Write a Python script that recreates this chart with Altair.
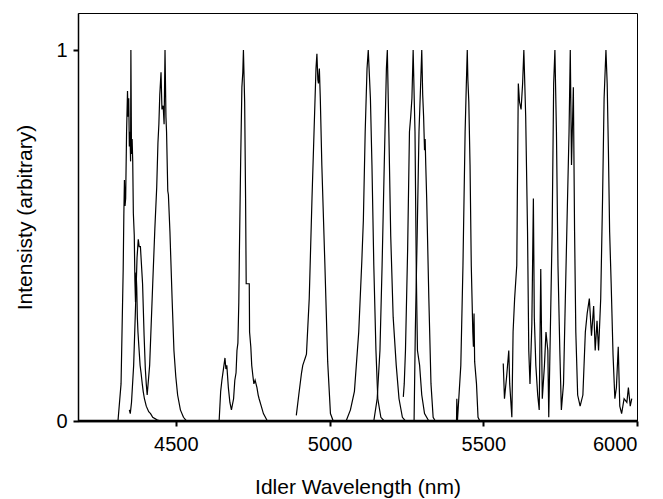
import altair as alt
import pandas as pd

# Idler wavelength (nm) and normalized intensity for each recorded peak
p1_nm = [4312, 4322, 4329, 4331, 4333, 4335, 4337, 4340, 4343, 4345, 4347, 4349, 4351, 4353, 4354, 4356, 4358, 4360, 4362, 4365, 4367, 4369, 4371, 4373, 4375, 4377, 4380, 4384, 4387, 4391, 4394, 4398, 4404, 4412, 4418, 4425, 4439, 4450]
p1_i = [0.0, 0.10, 0.41, 0.55, 0.65, 0.58, 0.60, 0.78, 0.89, 0.82, 0.87, 0.74, 0.78, 0.70, 1.0, 0.72, 0.76, 0.70, 0.56, 0.50, 0.38, 0.32, 0.40, 0.36, 0.28, 0.24, 0.20, 0.15, 0.13, 0.10, 0.08, 0.06, 0.04, 0.025, 0.02, 0.01, 0.003, 0.0]

p2_nm = [4349, 4352, 4356, 4363, 4370, 4374, 4378, 4381, 4385, 4392, 4397, 4401, 4404, 4407, 4415, 4425, 4432, 4438, 4442, 4445, 4448, 4452, 4455, 4459, 4462, 4465, 4468, 4470, 4474, 4476, 4481, 4488, 4494, 4500, 4506, 4515, 4525, 4535]
p2_i = [0.03, 0.02, 0.05, 0.15, 0.33, 0.44, 0.49, 0.47, 0.47, 0.37, 0.23, 0.14, 0.10, 0.07, 0.15, 0.37, 0.52, 0.63, 0.75, 0.80, 0.88, 0.94, 0.84, 0.85, 0.80, 1.0, 0.82, 0.78, 0.62, 0.61, 0.51, 0.33, 0.19, 0.12, 0.07, 0.03, 0.01, 0.0]

p3_nm = [4641, 4646, 4650, 4655, 4660, 4663, 4666, 4671, 4676, 4681, 4688, 4692, 4696, 4699, 4702, 4705, 4707, 4711, 4715, 4718, 4720, 4724, 4727, 4729, 4739, 4740, 4744, 4747, 4751, 4754, 4758, 4764, 4768, 4771, 4778, 4785, 4798]
p3_i = [0.0, 0.08, 0.11, 0.14, 0.17, 0.14, 0.15, 0.09, 0.05, 0.03, 0.06, 0.11, 0.13, 0.19, 0.21, 0.32, 0.46, 0.70, 0.90, 0.94, 1.0, 0.86, 0.60, 0.37, 0.37, 0.24, 0.20, 0.15, 0.12, 0.10, 0.11, 0.09, 0.07, 0.06, 0.04, 0.02, 0.0]

p4_nm = [4892, 4900, 4909, 4913, 4917, 4921, 4925, 4934, 4943, 4953, 4956, 4959, 4962, 4964, 4967, 4970, 4975, 4985, 4994, 5003, 5012]
p4_i = [0.015, 0.07, 0.13, 0.15, 0.16, 0.17, 0.18, 0.33, 0.60, 0.87, 0.95, 0.99, 0.92, 0.91, 0.95, 0.87, 0.69, 0.42, 0.16, 0.02, 0.0]

p5_nm = [5054, 5068, 5081, 5095, 5105, 5110, 5116, 5122, 5126, 5133, 5138, 5144, 5151, 5157, 5167, 5178]
p5_i = [0.0, 0.03, 0.08, 0.24, 0.43, 0.54, 0.78, 0.95, 1.0, 0.87, 0.69, 0.42, 0.19, 0.06, 0.01, 0.0]

p6_nm = [5144, 5155, 5164, 5171, 5178, 5185, 5188, 5193, 5199, 5207, 5217, 5226, 5237, 5247]
p6_i = [0.0, 0.06, 0.19, 0.42, 0.69, 0.95, 1.0, 0.78, 0.50, 0.28, 0.15, 0.06, 0.01, 0.0]

p7_nm = [5240, 5243, 5247, 5254, 5260, 5264, 5268, 5272, 5276, 5278, 5280, 5282, 5284, 5286, 5293, 5300, 5309, 5323]
p7_i = [0.065, 0.10, 0.19, 0.46, 0.78, 0.82, 0.87, 1.0, 0.85, 0.78, 0.60, 0.42, 0.30, 0.19, 0.15, 0.07, 0.02, 0.0]

p8_nm = [5275, 5279, 5285, 5291, 5296, 5300, 5303, 5306, 5309, 5311, 5313, 5316, 5323, 5330, 5337, 5344]
p8_i = [0.0, 0.24, 0.50, 0.78, 0.90, 1.0, 0.88, 0.82, 0.73, 0.76, 0.69, 0.60, 0.33, 0.10, 0.01, 0.0]

p9_nm = [5413, 5414, 5416, 5427, 5434, 5441, 5445, 5448, 5450, 5453, 5457, 5461, 5466, 5468, 5470, 5472, 5478, 5483, 5489]
p9_i = [0.0, 0.06, 0.0, 0.15, 0.42, 0.78, 0.91, 1.0, 0.92, 0.86, 0.69, 0.42, 0.24, 0.20, 0.29, 0.16, 0.10, 0.01, 0.0]

p10_nm = [5565, 5569, 5576, 5583, 5586, 5593, 5597, 5602, 5609, 5614, 5618, 5623, 5628, 5632, 5638, 5644, 5648, 5652, 5658, 5663,
          5666, 5671, 5677, 5682, 5687, 5692, 5699, 5704, 5710, 5713, 5717, 5724, 5729, 5733, 5738, 5743, 5749, 5754, 5761, 5768,
          5773, 5779, 5783, 5787, 5793, 5797, 5801, 5807, 5815, 5824, 5832, 5838, 5845, 5852, 5859, 5864, 5870, 5875, 5882, 5888,
          5893, 5899, 5903, 5907, 5911, 5916, 5922, 5928, 5933, 5939, 5944, 5950, 5958, 5967, 5972, 5978, 5983]
p10_i = [0.155, 0.06, 0.12, 0.19, 0.10, 0.01, 0.24, 0.33, 0.42, 0.91, 0.86, 0.84, 0.91, 1.0, 0.82, 0.51, 0.19, 0.10, 0.26, 0.60,
         0.28, 0.15, 0.07, 0.03, 0.41, 0.06, 0.15, 0.24, 0.19, 0.01, 0.19, 0.51, 0.91, 1.0, 0.78, 0.42, 0.19, 0.03, 0.10, 0.37,
         0.56, 0.78, 1.0, 0.69, 0.90, 0.51, 0.24, 0.07, 0.04, 0.07, 0.24, 0.29, 0.33, 0.23, 0.31, 0.19, 0.27, 0.19, 0.33, 0.60,
         0.87, 1.0, 0.91, 0.73, 0.51, 0.37, 0.18, 0.06, 0.09, 0.20, 0.04, 0.02, 0.06, 0.05, 0.09, 0.04, 0.06]

x_ticks = [4500, 5000, 5500, 6000]
y_ticks = [0, 1]

peaks = [(p1_nm, p1_i), (p2_nm, p2_i), (p3_nm, p3_i), (p4_nm, p4_i), (p5_nm, p5_i),
         (p6_nm, p6_i), (p7_nm, p7_i), (p8_nm, p8_i), (p9_nm, p9_i), (p10_nm, p10_i)]

rows = []
for k, (xs, ys) in enumerate(peaks):
    for j, (xv, yv) in enumerate(zip(xs, ys)):
        rows.append({"peak": k, "order": j, "wl": xv, "inten": yv})
df = pd.DataFrame(rows)

base_rule = pd.DataFrame({"wl": [4182, 6000], "inten": [0, 0]})

lines = alt.Chart(df).mark_line(color="black", strokeWidth=1.2, clip=True).encode(
    x=alt.X("wl:Q", scale=alt.Scale(domain=[4182, 6000], nice=False, zero=False),
            axis=alt.Axis(values=x_ticks, format="d", title="Idler Wavelength  (nm)")),
    y=alt.Y("inten:Q", scale=alt.Scale(domain=[0, 1.1], nice=False),
            axis=alt.Axis(values=y_ticks, format="d", title="Intensisty (arbitrary)")),
    detail="peak:N",
    order="order:Q",
)

baseline = alt.Chart(base_rule).mark_line(color="black", strokeWidth=2.5).encode(
    x="wl:Q", y="inten:Q"
)

chart = alt.layer(lines, baseline).properties(
    width=559, height=408,
    autosize=alt.AutoSizeParams(type="none"),
    padding={"left": 70, "top": 5, "right": 18, "bottom": 78},
).configure_view(
    stroke="black", strokeWidth=1
).configure_axis(
    grid=False,
    domainColor="black",
    tickColor="black",
    labelColor="black",
    titleColor="black",
    labelFont="Liberation Sans",
    titleFont="Liberation Sans",
    labelFontSize=20,
    titleFontSize=21,
    titleFontWeight="normal",
    tickSize=5,
    domainWidth=1.5,
    tickWidth=2,
).configure_axisX(
    labelPadding=8,
    titlePadding=22,
).configure_axisY(
    labelPadding=6,
    titlePadding=20,
)

chart.save("out.html", embed_options={"renderer": "svg", "actions": False})
